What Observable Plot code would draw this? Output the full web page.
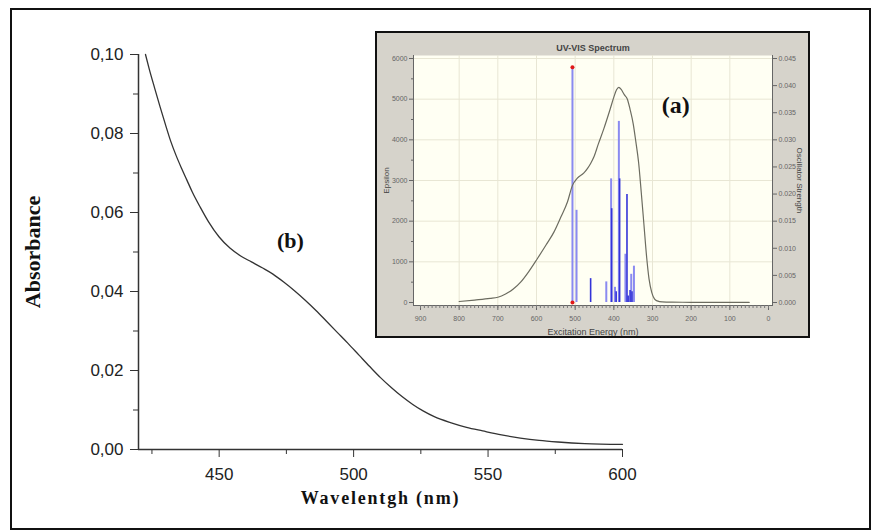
<!DOCTYPE html>
<html><head><meta charset="utf-8">
<script src="https://cdn.jsdelivr.net/npm/d3@7"></script>
<script src="https://cdn.jsdelivr.net/npm/@observablehq/plot@0.6"></script>
<style>
html,body{margin:0;padding:0;background:#fff;}
#wrap{position:relative;width:881px;height:531px;overflow:hidden;background:#fff;}
#main{position:absolute;left:0;top:0;}
#inset{position:absolute;left:375px;top:31px;border:2px solid #111;line-height:0;}
#frame{position:absolute;left:10px;top:8px;width:861px;height:522px;border:2px solid #111;box-sizing:border-box;pointer-events:none;}
</style></head><body>
<div id="wrap"><div id="main"></div><div id="inset"></div><div id="frame"></div></div>
<script>
// ---- main spectrum (b) ----
const wavelength = [422.6,424,426,428,430,432,434,436,438,440,443,446,450,454,458,462,466,470,474,478,482,486,490,494,498,502,506,510,514,518,522,526,530,536,542,548,555,562,569,576,586,600];
const absorbance = [0.1000,0.0963,0.0915,0.0868,0.0823,0.0780,0.0744,0.0712,0.0682,0.0652,0.0613,0.0577,0.0538,0.0510,0.0490,0.0475,0.0460,0.0444,0.0424,0.0402,0.0378,0.0352,0.0324,0.0296,0.0268,0.0239,0.0210,0.0182,0.0157,0.0134,0.0114,0.0097,0.0083,0.0068,0.0056,0.0047,0.0037,0.0029,0.0023,0.0019,0.0015,0.0013];
const xDomain = [420, 600];
const yDomain = [0, 0.10];
const yMajorTicks = [0, 0.02, 0.04, 0.06, 0.08, 0.10];
const yMinorTicks = [0.01, 0.03, 0.05, 0.07, 0.09];
const xMajorTicks = [450, 500, 550, 600];
const xMinorTicks = [425, 475, 525, 575];
const labelB = [{wavelength: 476.5, absorbance: 0.0529, text: "(b)"}];

// ---- inset (a): computed UV-VIS spectrum ----
const insetWavelength = [800,760,720,700,680,660,641,620,598,575,555,537,520,507,495,478,468,460,452,440,426,410,400,393,387,381,373,365,358,350,343,336,329,322,315,309,302,295,288,275,250,200,100,50];
const insetEpsilon = [25,60,100,130,210,330,500,760,1075,1420,1730,2100,2470,2880,3050,3180,3300,3420,3570,3900,4270,4740,5050,5230,5290,5240,5110,5000,4750,4400,3950,3450,2700,1900,1100,580,250,90,40,15,8,5,3,2];
const stickWavelength = [507,496.5,460,419.5,407,405.5,397,394,387,385,370,366,363,358,355,353,348];
const stickStrength = [0.0434,0.0170,0.0044,0.0038,0.0228,0.0173,0.0028,0.0020,0.0334,0.0228,0.0089,0.0199,0.0012,0.0022,0.0052,0.0020,0.0067];
const stickShade = ["light","light","dark","light","light","dark","light","dark","light","dark","light","dark","dark","dark","light","dark","light"];
const selectedStick = [507];
const insetXTicks = [900,800,700,600,500,400,300,200,100,0];
const insetYTicks = [0,1000,2000,3000,4000,5000,6000];
const insetYMinor = [500,1500,2500,3500,4500,5500];
const insetFTicks = [0,0.005,0.010,0.015,0.020,0.025,0.030,0.035,0.040,0.045];
const epsMax = 6000, fMax = 0.045;
const labelA = [{wavelength: 240, epsilon: 4850, text: "(a)"}];

const sans = "'Liberation Sans', Arial, Helvetica, sans-serif";
const serif = "'Liberation Serif', 'Times New Roman', serif";

const mainData = wavelength.map((w, i) => ({w, a: absorbance[i]}));
const commaFmt = d => d.toFixed(2).replace(".", ",");

const main = Plot.plot({
  width: 881, height: 531,
  marginLeft: 138, marginRight: 259, marginTop: 54, marginBottom: 82,
  x: {domain: xDomain},
  y: {domain: yDomain},
  style: {fontFamily: sans, fontSize: "17px", color: "#222", background: "transparent"},
  marks: [
    Plot.axisY(yMajorTicks, {tickSize: 8, tickPadding: 7, tickFormat: commaFmt, label: null, stroke: "#333", fill: "#222"}),
    Plot.axisY(yMinorTicks, {tickSize: 5, tickFormat: () => "", label: null, stroke: "#333"}),
    Plot.axisX(xMajorTicks, {tickSize: 8, tickPadding: 10, tickFormat: d => String(d), label: null, stroke: "#333", fill: "#222"}),
    Plot.axisX(xMinorTicks, {tickSize: 5, tickFormat: () => "", label: null, stroke: "#333"}),
    Plot.ruleX([xDomain[0]], {y1: yDomain[0], y2: yDomain[1], stroke: "#333", strokeWidth: 1.5}),
    Plot.ruleY([yDomain[0]], {x1: xDomain[0], x2: xDomain[1], stroke: "#333", strokeWidth: 1.5}),
    Plot.line(mainData, {x: "w", y: "a", curve: "monotone-x", stroke: "#333", strokeWidth: 1.3}),
    Plot.text(["Absorbance"], {text: d => d, frameAnchor: "left", textAnchor: "middle", dx: -106, rotate: -90, fontFamily: serif, fontWeight: "bold", fontSize: 22, fill: "#111"}),
    Plot.text(["Wavelentgh (nm)"], {text: d => d, frameAnchor: "bottom", dy: 54, fontFamily: serif, fontWeight: "bold", fontSize: 18, fill: "#111"}),
    Plot.text(labelB, {x: "wavelength", y: "absorbance", text: "text", fontFamily: serif, fontWeight: "bold", fontSize: 22, fill: "#111"})
  ]
});
main.querySelectorAll("text").forEach(t => { if (t.textContent === "Wavelentgh (nm)") t.setAttribute("letter-spacing", "1.8"); });
document.getElementById("main").appendChild(main);

const insetData = insetWavelength.map((w, i) => ({w, e: insetEpsilon[i]}));
const sticks = stickWavelength.map((w, i) => ({w, e: stickStrength[i] * epsMax / fMax, shade: stickShade[i]}));
const selected = sticks.filter(s => selectedStick.includes(s.w));

const inset = Plot.plot({
  width: 431, height: 303,
  marginLeft: 36, marginRight: 36, marginTop: 22, marginBottom: 31,
  x: {domain: [900, 0], insetLeft: 7, insetRight: 4},
  y: {domain: [0, epsMax], insetTop: 3, insetBottom: 3},
  style: {background: "#d6d3cb", fontFamily: sans, fontSize: "7px", color: "#555"},
  marks: [
    Plot.frame({fill: "#fffff3", stroke: null}),
    Plot.gridX(insetXTicks.slice(1, -1), {stroke: "#e8e6d4", strokeOpacity: 1}),
    Plot.gridY(insetYTicks.slice(1), {stroke: "#e8e6d4", strokeOpacity: 1}),
    Plot.frame({anchor: "left", stroke: "#666"}),
    Plot.frame({anchor: "right", stroke: "#666"}),
    Plot.frame({anchor: "bottom", stroke: "#666"}),
    Plot.axisY(insetYTicks, {tickSize: 4, tickPadding: 2, label: null, tickFormat: d => String(d), stroke: "#666", fill: "#666"}),
    Plot.axisY(insetYMinor, {tickSize: 2, tickFormat: () => "", label: null, stroke: "#666"}),
    Plot.axisY(insetFTicks.map(f => f * epsMax / fMax), {anchor: "right", tickSize: 4, tickPadding: 2, label: null, tickFormat: d => (d * fMax / epsMax).toFixed(3), stroke: "#666", fill: "#666"}),
    Plot.axisX(insetXTicks, {tickSize: 5, tickPadding: 6, label: null, tickFormat: d => String(d), stroke: "#666", fill: "#666"}),
    Plot.axisX(d3.range(0, 901, 10), {tickSize: 3, tickFormat: () => "", label: null, stroke: "#777"}),
    Plot.ruleX(sticks.filter(s => s.shade === "light"), {x: "w", y1: 0, y2: "e", stroke: "#8a8af0", strokeWidth: 2}),
    Plot.ruleX(sticks.filter(s => s.shade === "dark"), {x: "w", y1: 0, y2: "e", stroke: "#3434d8", strokeWidth: 1.6}),
    Plot.line(insetData, {x: "w", y: "e", curve: "monotone-x", stroke: "#6c6c60", strokeWidth: 1.2}),
    Plot.dot(selected, {x: "w", y: "e", r: 2, fill: "#e01818", stroke: null}),
    Plot.dot(selected, {x: "w", y: 0, r: 2, fill: "#e01818", stroke: null}),
    Plot.text(["UV-VIS Spectrum"], {text: d => d, frameAnchor: "top", dy: -11, fontWeight: "bold", fontSize: 9, fill: "#444"}),
    Plot.text(["Epsilon"], {text: d => d, frameAnchor: "left", textAnchor: "middle", dx: -27, rotate: -90, fontSize: 8, fill: "#444"}),
    Plot.text(["Oscillator Strength"], {text: d => d, frameAnchor: "right", textAnchor: "middle", dx: 27, rotate: 90, fontSize: 8, fill: "#444"}),
    Plot.text(["Excitation Energy (nm)"], {text: d => d, frameAnchor: "bottom", dy: 29, fontSize: 9, fill: "#444"}),
    Plot.text(labelA, {x: "wavelength", y: "epsilon", text: "text", fontFamily: serif, fontWeight: "bold", fontSize: 24, fill: "#111"})
  ]
});
document.getElementById("inset").appendChild(inset);
</script>
</body></html>
